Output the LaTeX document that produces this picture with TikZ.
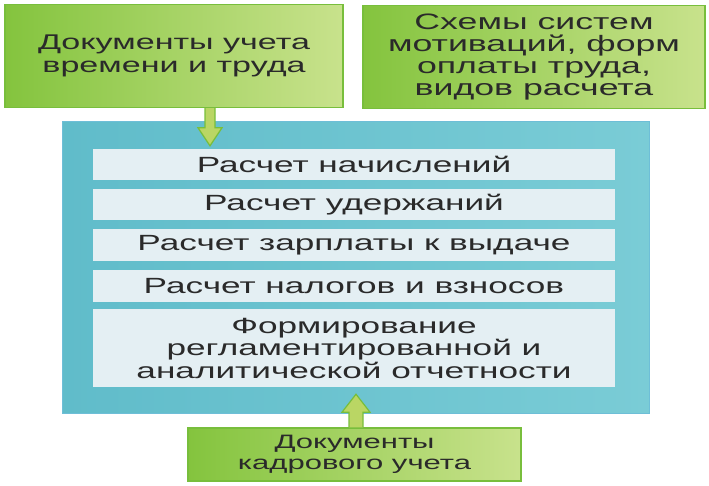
\documentclass[tikz,border=0pt]{standalone}
\usepackage{fontspec}
\setmainfont{Liberation Sans}[FakeStretch=1.6]
\usetikzlibrary{calc}
\definecolor{gL}{RGB}{132,196,62}
\definecolor{gR}{RGB}{200,226,140}
\definecolor{gB}{RGB}{120,190,60}
\definecolor{aF}{RGB}{186,214,100}
\definecolor{tL}{RGB}{96,188,202}
\definecolor{tR}{RGB}{122,204,214}
\definecolor{tB}{RGB}{110,190,215}
\definecolor{rowF}{RGB}{228,239,243}
\definecolor{txt}{RGB}{42,42,42}
\tikzset{
  greenbox/.style={draw=gB, line width=1.2pt, left color=gL, right color=gR,
    align=center, text=txt, inner sep=0pt},
  tealbox/.style={draw=tB, line width=1pt, left color=tL, right color=tR, inner sep=0pt},
  rowbox/.style={fill=rowF, draw=none, align=center, text=txt, inner sep=0pt,
    minimum width=522pt, font=\fontsize{22}{22.5}\selectfont},
  blockarrow/.style={fill=aF, draw=gB, line width=1.2pt, line join=miter}
}
\begin{document}
\begin{tikzpicture}[x=1pt,y=-1pt]
\useasboundingbox (0,0) rectangle (709,485);
% top boxes
\node[greenbox, minimum width=338pt, minimum height=103pt,
  font=\fontsize{21.3}{22.5}\selectfont] (tl) at (174,56)
  {Документы учета\\времени и труда};
\node[greenbox, minimum width=342pt, minimum height=103pt,
  font=\fontsize{22.3}{22.3}\selectfont] (tr) at (534,57)
  {Схемы систем\\мотиваций, форм\\оплаты труда,\\видов расчета};
% teal container
\node[tealbox, minimum width=587pt, minimum height=292pt] (main) at (355.5,267) {};
% rows
\node[rowbox, minimum height=31pt] (r1) at (354,164.5) {Расчет начислений};
\node[rowbox, minimum height=31pt] (r2) at (354,204.5) {Расчет удержаний};
\node[rowbox, minimum height=32pt] (r3) at (354,245) {Расчет зарплаты к выдаче};
\node[rowbox, minimum height=32pt] (r4) at (354,286) {Расчет налогов и взносов};
\node[rowbox, minimum height=78pt] (r5) at (354,348)
  {Формирование\\регламентированной и\\аналитической отчетности};
% bottom box
\node[greenbox, minimum width=333pt, minimum height=53pt,
  font=\fontsize{19.4}{21.5}\selectfont] (bt) at (354.5,454.5)
  {Документы\\кадрового учета};
% arrows
\coordinate (a1s) at ([xshift=36pt]tl.south);
\coordinate (a1t) at ($(a1s |- r1.north)+(0,-3)$);
\draw[blockarrow] ($(a1s)+(-5,0)$) -- ($(a1t)+(-5,-18)$) -- ($(a1t)+(-12,-18)$)
  -- (a1t) -- ($(a1t)+(12,-18)$) -- ($(a1t)+(5,-18)$) -- ($(a1s)+(5,0)$);
\coordinate (a2s) at ([xshift=1.5pt]bt.north);
\coordinate (a2t) at ($(a2s |- r5.south)+(0,7)$);
\draw[blockarrow] ($(a2s)+(-7,0)$) -- ($(a2t)+(-7,18)$) -- ($(a2t)+(-14,18)$)
  -- (a2t) -- ($(a2t)+(14,18)$) -- ($(a2t)+(7,18)$) -- ($(a2s)+(7,0)$);
\end{tikzpicture}
\end{document}
